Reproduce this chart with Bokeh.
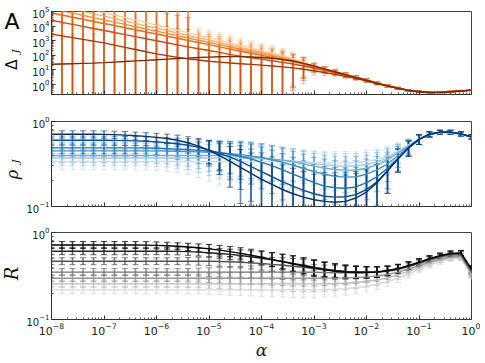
import math
from bokeh.plotting import figure
from bokeh.layouts import column, row
from bokeh.models import Range1d, FixedTicker, LogTickFormatter, CustomJSTickFormatter
from bokeh.core.properties import value
from bokeh.embed import file_html
from bokeh.resources import INLINE

# ---------------- data ----------------
ALPHA_EXP = [-8.0, -7.8, -7.6, -7.4, -7.2, -7.0, -6.8, -6.6, -6.4, -6.2, -6.0,
             -5.8, -5.6, -5.4, -5.2, -5.0, -4.8, -4.6, -4.4, -4.2, -4.0,
             -3.8, -3.6, -3.4, -3.2, -3.0, -2.8, -2.6, -2.4, -2.2, -2.0,
             -1.8, -1.6, -1.4, -1.2, -1.0, -0.8, -0.6, -0.4, -0.2, 0.0]

DELTA_TAIL = [-0.09, -0.25, -0.40, -0.49, -0.54, -0.53, -0.49, -0.44, -0.38]
# log10(Delta_J), darkest to lightest series
DELTA_0 = [1.39, 1.41, 1.43, 1.45, 1.47, 1.50, 1.54, 1.58, 1.62, 1.66, 1.70, 1.74, 1.78, 1.81, 1.85, 1.88,
           1.90, 1.91, 1.91, 1.89, 1.85, 1.80, 1.72, 1.61, 1.45, 1.27, 1.08, 0.88, 0.68, 0.49, 0.30, 0.10] + DELTA_TAIL
DELTA_1 = [3.45, 3.33, 3.21, 3.09, 2.97, 2.85, 2.70, 2.55, 2.40, 2.25, 2.10, 1.98, 1.86, 1.76, 1.68, 1.60,
           1.54, 1.48, 1.43, 1.38, 1.33, 1.27, 1.21, 1.14, 1.05, 0.95, 0.83, 0.70, 0.56, 0.41, 0.25, 0.06] + DELTA_TAIL
DELTA_2 = [4.40, 4.26, 4.12, 3.98, 3.84, 3.70, 3.56, 3.42, 3.28, 3.14, 3.00, 2.86, 2.72, 2.58, 2.45, 2.33,
           2.20, 2.07, 1.95, 1.84, 1.74, 1.63, 1.52, 1.41, 1.27, 1.12, 0.97, 0.81, 0.64, 0.46, 0.28, 0.08] + DELTA_TAIL
DELTA_3 = [4.90, 4.76, 4.61, 4.47, 4.32, 4.18, 4.04, 3.89, 3.75, 3.60, 3.46, 3.31, 3.17, 3.02, 2.88, 2.73,
           2.58, 2.43, 2.28, 2.14, 2.00, 1.86, 1.72, 1.57, 1.40, 1.18, 1.01, 0.84, 0.66, 0.48, 0.30, 0.09] + DELTA_TAIL
DELTA_4 = [5.20, 5.05, 4.89, 4.74, 4.58, 4.43, 4.27, 4.12, 3.96, 3.81, 3.65, 3.50, 3.35, 3.19, 3.04, 2.88,
           2.73, 2.57, 2.42, 2.27, 2.12, 1.97, 1.81, 1.64, 1.45, 1.22, 1.04, 0.86, 0.68, 0.50, 0.32, 0.10] + DELTA_TAIL
DELTA_5 = [5.50, 5.34, 5.17, 5.01, 4.84, 4.68, 4.52, 4.35, 4.19, 4.02, 3.86, 3.70, 3.53, 3.37, 3.20, 3.04,
           2.88, 2.71, 2.55, 2.39, 2.23, 2.06, 1.89, 1.70, 1.49, 1.25, 1.06, 0.88, 0.70, 0.51, 0.33, 0.11] + DELTA_TAIL
DELTA_6 = [5.80, 5.63, 5.45, 5.28, 5.11, 4.93, 4.76, 4.59, 4.41, 4.24, 4.07, 3.89, 3.72, 3.55, 3.37, 3.20,
           3.03, 2.85, 2.68, 2.51, 2.34, 2.16, 1.98, 1.77, 1.54, 1.28, 1.08, 0.90, 0.72, 0.53, 0.35, 0.12] + DELTA_TAIL
# error bar extent in decades (up / down)
DELTA_UP = [2.0] * 14 + [0.55] * 4 + [0.5] * 5 + [0.45, 0.40, 0.22, 0.18, 0.15, 0.13, 0.11, 0.10, 0.08,
                                                   0.07, 0.06, 0.05, 0.05] + [0.04] * 5
DELTA_DOWN = [9.0] * 23 + [1.8, 1.0, 0.30, 0.22, 0.18, 0.15, 0.13, 0.11, 0.09, 0.08, 0.07, 0.06, 0.05] + [0.04] * 5

# log10(rho_J), darkest to lightest
RHO_0 = [-0.15, -0.15, -0.15, -0.15, -0.15, -0.152, -0.155, -0.16, -0.167, -0.175, -0.187, -0.20, -0.22, -0.25,
         -0.29, -0.34, -0.40, -0.47, -0.54, -0.61, -0.68, -0.74, -0.80, -0.85, -0.89, -0.92, -0.94, -0.95,
         -0.94, -0.90, -0.83, -0.72, -0.58, -0.44, -0.31, -0.21, -0.15, -0.125, -0.125, -0.145, -0.18]
RHO_1 = [-0.22, -0.22, -0.22, -0.22, -0.22, -0.22, -0.222, -0.225, -0.228, -0.232, -0.24, -0.25, -0.262, -0.28,
         -0.305, -0.335, -0.375, -0.42, -0.47, -0.53, -0.59, -0.65, -0.71, -0.76, -0.81, -0.85, -0.88, -0.89,
         -0.885, -0.86, -0.80, -0.71, -0.58, -0.44, -0.31, -0.21, -0.15, -0.125, -0.125, -0.145, -0.18]
RHO_2 = [-0.31] * 9 + [-0.312, -0.315, -0.32, -0.325, -0.33, -0.34, -0.35, -0.365, -0.385, -0.41, -0.44, -0.48,
                       -0.52, -0.57, -0.62, -0.67, -0.72, -0.76, -0.78, -0.785, -0.77, -0.72, -0.65, -0.55, -0.43,
                       -0.31, -0.21, -0.15, -0.125, -0.125, -0.145, -0.18]
RHO_3 = [-0.345] * 11 + [-0.347, -0.35, -0.353, -0.357, -0.362, -0.37, -0.38, -0.39, -0.405, -0.425, -0.45,
                         -0.48, -0.515, -0.55, -0.59, -0.62, -0.645, -0.655, -0.65, -0.62, -0.57, -0.50, -0.40,
                         -0.30, -0.21, -0.15, -0.125, -0.125, -0.145, -0.18]
RHO_4 = [-0.40] * 16 + [-0.402, -0.405, -0.41, -0.415, -0.425, -0.44, -0.455, -0.475, -0.50, -0.525, -0.55,
                        -0.565, -0.575, -0.57, -0.55, -0.51, -0.45, -0.37, -0.29, -0.21, -0.155, -0.13, -0.13,
                        -0.15, -0.185]
RHO_5 = [-0.43] * 18 + [-0.432, -0.435, -0.44, -0.445, -0.455, -0.465, -0.48, -0.495, -0.51, -0.52, -0.525,
                        -0.52, -0.505, -0.475, -0.43, -0.36, -0.285, -0.21, -0.155, -0.13, -0.13, -0.15, -0.185]
RHO_6 = [-0.47] * 22 + [-0.472, -0.475, -0.478, -0.482, -0.486, -0.49, -0.49, -0.485, -0.47, -0.445, -0.405,
                        -0.345, -0.275, -0.205, -0.155, -0.13, -0.13, -0.15, -0.19]
RHO_SIGMA = [0.07] * 10 + [0.075, 0.08, 0.09, 0.10, 0.12, 0.14, 0.16, 0.17, 0.18, 0.18, 0.17, 0.16, 0.15,
                           0.14, 0.13] + [0.12] * 8 + [0.11, 0.10, 0.08, 0.05, 0.04, 0.04, 0.04, 0.04]

# log10(R), darkest to lightest
R_0 = [-0.143] * 9 + [-0.145, -0.148, -0.152, -0.158, -0.166, -0.176, -0.188, -0.203, -0.22, -0.24, -0.262,
                      -0.285, -0.31, -0.335, -0.36, -0.385, -0.41, -0.43, -0.445, -0.455, -0.46, -0.46, -0.455,
                      -0.44, -0.415, -0.38, -0.34, -0.30, -0.265, -0.24, -0.235, -0.42]
R_1 = [-0.215] * 12 + [-0.217, -0.22, -0.225, -0.232, -0.241, -0.252, -0.265, -0.28, -0.296, -0.314, -0.334,
                       -0.355, -0.377, -0.40, -0.42, -0.437, -0.448, -0.455, -0.457, -0.453, -0.44, -0.417,
                       -0.383, -0.345, -0.305, -0.27, -0.245, -0.24, -0.43]
R_2 = [-0.33] * 16 + [-0.333, -0.337, -0.342, -0.349, -0.357, -0.366, -0.376, -0.388, -0.40, -0.413, -0.427,
                      -0.438, -0.447, -0.452, -0.455, -0.452, -0.441, -0.42, -0.387, -0.35, -0.31, -0.275,
                      -0.25, -0.245, -0.44]
R_3 = [-0.455] * 25 + [-0.457, -0.46, -0.462, -0.463, -0.462, -0.46, -0.455, -0.445, -0.425, -0.395, -0.36,
                       -0.32, -0.285, -0.26, -0.255, -0.45]
R_4 = [-0.525] * 27 + [-0.524, -0.522, -0.518, -0.51, -0.50, -0.483, -0.455, -0.42, -0.38, -0.34, -0.305,
                       -0.28, -0.275, -0.47]
R_5 = [-0.59] * 27 + [-0.587, -0.583, -0.575, -0.563, -0.546, -0.522, -0.488, -0.445, -0.40, -0.355, -0.318,
                      -0.292, -0.285, -0.48]
R_6 = [-0.66] * 26 + [-0.657, -0.652, -0.645, -0.633, -0.617, -0.595, -0.565, -0.525, -0.477, -0.425, -0.375,
                      -0.335, -0.305, -0.295, -0.49]
R_ERR = [0.04] * 13 + [0.042, 0.045, 0.05, 0.055, 0.06, 0.065, 0.07, 0.075, 0.08, 0.085, 0.09, 0.09, 0.09,
                       0.085, 0.08, 0.075, 0.07, 0.065, 0.06, 0.055, 0.05, 0.045, 0.04, 0.035, 0.03, 0.03, 0.03, 0.04]

ORANGES = ["#7f2704", "#a63603", "#d94801", "#f16913", "#fd8d3c", "#fdae6b", "#fdd0a2"]
BLUES = ["#08306b", "#08519c", "#2171b5", "#4292c6", "#6baed6", "#9ecae1", "#c6dbef"]
GREYS = ["#000000", "#252525", "#525252", "#737373", "#969696", "#bdbdbd", "#d9d9d9"]

alpha = [10.0 ** e for e in ALPHA_EXP]

DECADE_X = [10.0 ** k for k in range(-8, 1)]
MINOR_X = [m * 10.0 ** k for k in range(-8, 0) for m in range(2, 10)]

FONT = "DejaVu Sans"
SERIF = "DejaVu Serif"
LAB_W = 23
FW = 457
FL, FR = 25, 9
TOTAL_H = 362


def make_fig(height, yr, top, bottom, yticks, yminor, show_x):
    p = figure(width=FW, height=height, x_axis_type="log", y_axis_type="log",
               x_range=Range1d(1e-8, 1.0), y_range=Range1d(*yr),
               output_backend="svg", toolbar_location=None,
               min_border_left=FL, min_border_right=FR, min_border_top=top, min_border_bottom=bottom)
    p.grid.visible = False
    p.outline_line_color = "#444444"
    p.outline_line_width = 1
    for ax in (p.xaxis[0], p.yaxis[0]):
        ax.major_tick_in = 4
        ax.major_tick_out = 0
        ax.minor_tick_in = 2
        ax.minor_tick_out = 0
        ax.axis_line_color = "#333333"
        ax.major_tick_line_color = "#333333"
        ax.minor_tick_line_color = "#555555"
        ax.major_label_text_font = FONT
        ax.major_label_text_color = "#222222"
    p.xaxis.major_label_text_font_size = "11px"
    p.xaxis.major_label_standoff = 3
    p.yaxis.major_label_text_font_size = "10px"
    p.yaxis.major_label_standoff = 2
    p.xaxis.ticker = FixedTicker(ticks=DECADE_X, minor_ticks=MINOR_X)
    p.yaxis.ticker = FixedTicker(ticks=yticks, minor_ticks=yminor)
    p.yaxis.formatter = LogTickFormatter()
    if show_x:
        p.xaxis.formatter = LogTickFormatter()
    else:
        p.xaxis.formatter = CustomJSTickFormatter(code="return ' ';")
        p.xaxis.major_label_standoff = 0
    return p


def errorbars(p, lo, hi, color, a, w):
    p.segment(x0=alpha, y0=lo, x1=alpha, y1=hi, line_color=color, line_alpha=a, line_width=w)
    p.scatter(x=alpha + alpha, y=lo + hi, marker="dash", size=6, line_color=color, line_alpha=a,
              line_width=1)


# ---------------- panel 1: Delta_J ----------------
p1 = make_fig(110, (0.21, 1e5), 11, 10,
              [10.0 ** k for k in range(0, 6)],
              [m * 10.0 ** k for k in range(-1, 5) for m in range(2, 10)], False)
delta_series = [DELTA_0, DELTA_1, DELTA_2, DELTA_3, DELTA_4, DELTA_5, DELTA_6]
bar_alpha_1 = [0.15, 0.25, 0.4, 0.45, 0.5, 0.5, 0.5]
for k in range(6, -1, -1):
    s = delta_series[k]
    lo = [10.0 ** (v - d) for v, d in zip(s, DELTA_DOWN)]
    hi = [10.0 ** (v + u) for v, u in zip(s, DELTA_UP)]
    errorbars(p1, lo, hi, ORANGES[k], bar_alpha_1[k], 1.6)
for k in range(6, -1, -1):
    p1.line(alpha, [10.0 ** v for v in delta_series[k]], line_color=ORANGES[k], line_width=1.4)

# ---------------- panel 2: rho_J ----------------
p2 = make_fig(112, (0.1, 1.0), 11, 10, [0.1, 1.0], [m * 0.1 for m in range(2, 10)], False)
rho_series = [RHO_0, RHO_1, RHO_2, RHO_3, RHO_4, RHO_5, RHO_6]
for k in range(6, -1, -1):
    vals = [10.0 ** v for v in rho_series[k]]
    lo = [max(v - s, 1e-4) for v, s in zip(vals, RHO_SIGMA)]
    hi = [v + s for v, s in zip(vals, RHO_SIGMA)]
    errorbars(p2, lo, hi, BLUES[k], 0.6, 1.6)
for k in range(6, -1, -1):
    p2.line(alpha, [10.0 ** v for v in rho_series[k]], line_color=BLUES[k], line_width=1.4)

# ---------------- panel 3: R ----------------
p3 = make_fig(140, (0.1, 1.0), 10, 40, [0.1, 1.0], [m * 0.1 for m in range(2, 10)], True)
r_series = [R_0, R_1, R_2, R_3, R_4, R_5, R_6]
for k in range(6, -1, -1):
    s = r_series[k]
    lo = [10.0 ** (v - e) for v, e in zip(s, R_ERR)]
    hi = [10.0 ** (v + e) for v, e in zip(s, R_ERR)]
    errorbars(p3, lo, hi, GREYS[k], 0.75, 1.6)
for k in range(6, -1, -1):
    p3.line(alpha, [10.0 ** v for v in r_series[k]], line_color=GREYS[k], line_width=1.4)
p3.xaxis.axis_label = "α"
p3.xaxis.axis_label_text_font = SERIF
p3.xaxis.axis_label_text_font_style = "italic"
p3.xaxis.axis_label_text_font_size = "17px"
p3.xaxis.axis_label_text_color = "#222222"
p3.xaxis.axis_label_standoff = 2

# ---------------- left strip with panel letter and y labels ----------------
lab = figure(width=LAB_W, height=TOTAL_H, x_range=Range1d(0, LAB_W), y_range=Range1d(0, TOTAL_H),
             output_backend="svg", toolbar_location=None, x_axis_location=None, y_axis_location=None,
             min_border=0, outline_line_color=None)
lab.grid.visible = False
up = math.pi / 2
lab.text(x=[11.5], y=[TOTAL_H - 21], text=["A"], text_font=value(FONT), text_font_size="22px",
         text_align="center", text_baseline="alphabetic", text_color="black")
lab.text(x=[11], y=[TOTAL_H - 64], text=["Δ"], angle=up, text_font=value(FONT), text_font_size="15px",
         text_align="center", text_baseline="middle", text_color="#111111")
lab.text(x=[15], y=[TOTAL_H - 51], text=["J"], angle=up, text_font=value(SERIF), text_font_style="italic",
         text_font_size="10px", text_align="center", text_baseline="middle", text_color="#111111")
lab.text(x=[11.5], y=[TOTAL_H - 174], text=["ρ"], angle=up, text_font=value(SERIF), text_font_style="italic",
         text_font_size="16px", text_align="center", text_baseline="middle", text_color="#111111")
lab.text(x=[15], y=[TOTAL_H - 161], text=["J"], angle=up, text_font=value(SERIF), text_font_style="italic",
         text_font_size="10px", text_align="center", text_baseline="middle", text_color="#111111")
lab.text(x=[11], y=[TOTAL_H - 273], text=["R"], angle=up, text_font=value(SERIF), text_font_style="italic",
         text_font_size="18px", text_align="center", text_baseline="middle", text_color="#111111")

layout = row(lab, column(p1, p2, p3, spacing=0), spacing=0)
open("out.html", "w").write(file_html(layout, INLINE))
